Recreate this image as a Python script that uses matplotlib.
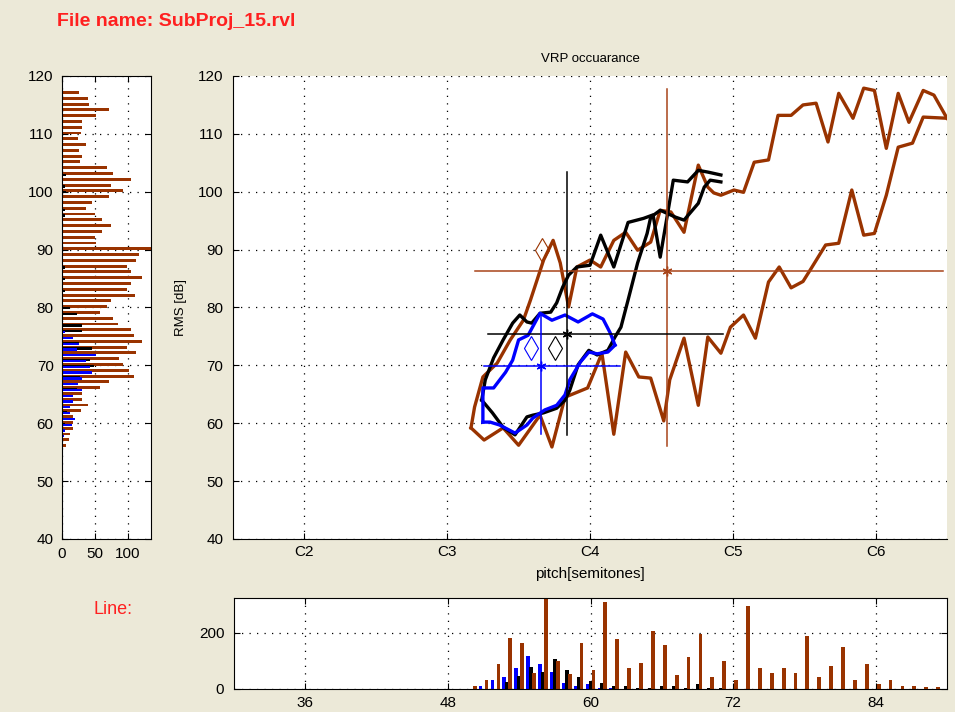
import matplotlib.pyplot as plt
import numpy as np

plt.rcParams['font.family'] = ['Liberation Sans', 'DejaVu Sans']

# ---- colours
bg = '#ece9d8'
brown = '#993300'
brown_thin = '#a8441a'
blue = '#0000ff'
black = '#000000'

# ---- VRP contours (pitch in semitones, level in dB)
brown_up_pitch = [50.0, 50.3, 51.0, 52.2, 53.3, 54.4, 55.0, 56.1, 56.9, 57.5, 58.2, 58.9, 60.0,
                  60.9, 62.0, 63.0, 64.0, 65.1, 65.9, 66.8, 67.9, 69.1, 69.9, 70.4, 71.0, 72.1,
                  72.9, 73.8, 75.0, 75.8, 76.9, 77.9, 79.0, 80.0, 80.9, 82.1, 83.0, 83.9, 84.9,
                  85.9, 86.8, 88.0, 88.9, 90.0]
brown_up_db = [59.2, 62.8, 68.0, 70.4, 74.4, 77.8, 81.3, 88.2, 91.6, 87.7, 80.1, 87.0, 88.2,
               87.0, 91.6, 93.0, 89.9, 91.3, 96.8, 96.5, 93.0, 104.6, 100.8, 99.8, 99.4, 100.3,
               99.9, 105.1, 105.5, 113.2, 113.2, 115.0, 115.3, 108.6, 117.0, 112.7, 117.9, 117.5,
               107.5, 117.0, 112.0, 117.5, 116.7, 112.7]
brown_lo_pitch = [50.0, 51.1, 52.7, 54.0, 55.8, 56.8, 57.9, 59.8, 61.0, 62.0, 63.0, 64.1, 65.1,
                  66.2, 66.7, 67.9, 69.1, 69.9, 71.0, 71.8, 72.9, 73.9, 75.0, 75.9, 76.9, 77.9,
                  78.6, 79.8, 80.9, 82.0, 83.0, 83.9, 84.9, 85.9, 87.1, 88.0, 90.0]
brown_lo_db = [59.2, 57.1, 59.2, 56.2, 61.4, 55.9, 64.5, 66.1, 72.1, 58.1, 72.3, 68.0, 67.8,
               60.4, 67.5, 74.7, 63.1, 74.9, 72.1, 76.6, 78.7, 74.7, 84.4, 87.0, 83.4, 84.5,
               86.8, 90.8, 91.1, 100.3, 92.5, 92.8, 99.4, 107.7, 108.4, 112.9, 112.7]

black_up_pitch = [50.9, 51.2, 51.9, 52.7, 53.5, 54.1, 54.7, 55.1, 55.8, 56.7, 57.2, 57.7, 58.2,
                  58.9, 60.0, 60.9, 62.0, 63.2, 64.5, 65.3, 65.9, 67.0, 68.2, 69.1, 69.9, 71.0]
black_up_db = [64.0, 67.5, 71.3, 74.4, 77.3, 78.7, 77.5, 77.3, 79.0, 79.2, 80.8, 83.5, 85.6,
               87.0, 87.3, 92.5, 87.0, 94.7, 95.4, 96.0, 88.7, 102.0, 101.7, 103.7, 103.4, 102.9]
black_lo_pitch = [50.9, 51.8, 52.7, 53.7, 54.7, 55.2, 56.1, 57.2, 57.9, 58.3, 59.0, 59.9, 60.6,
                  61.5, 62.1, 62.6, 63.2, 64.0, 64.8, 65.1, 65.9, 67.2, 67.9, 69.1, 69.6, 70.1, 71.0]
black_lo_db = [64.0, 61.8, 59.3, 58.0, 61.1, 61.4, 61.8, 62.6, 64.0, 65.7, 70.1, 72.6, 71.8,
               72.6, 74.9, 76.6, 81.3, 87.7, 92.8, 95.6, 96.8, 95.6, 95.1, 98.0, 100.8, 102.0, 101.7]

blue_up_pitch = [51.0, 51.0, 51.9, 52.9, 53.5, 54.0, 54.8, 55.8, 56.8, 57.9, 59.0, 60.2, 61.1,
                 61.7, 62.1]
blue_up_db = [60.2, 66.1, 66.1, 68.8, 70.9, 74.4, 75.2, 79.0, 77.8, 78.7, 77.5, 78.9, 78.0,
              75.6, 73.5]
blue_lo_pitch = [51.0, 51.6, 52.4, 53.7, 54.7, 55.2, 56.2, 57.2, 57.9, 58.3, 59.2, 59.9, 60.6,
                 61.5, 62.1]
blue_lo_db = [60.2, 60.2, 59.7, 58.3, 59.7, 60.9, 62.3, 63.1, 64.9, 67.5, 70.6, 72.3, 72.0,
              72.3, 73.5]

# ---- crosshairs: centre, pitch range, level range
brown_cross = dict(c=(66.5, 86.3), xr=(50.3, 89.7), yr=(56.1, 117.7))
black_cross = dict(c=(58.1, 75.4), xr=(51.4, 71.2), yr=(58.0, 103.4))
blue_cross = dict(c=(55.9, 69.9), xr=(51.1, 62.5), yr=(58.1, 78.9))
diamonds = [(56.0, 89.9, brown), (55.0, 73.0, blue), (57.1, 73.0, black)]

# ---- left histogram (counts per dB)
lh_brown_db = list(range(117, 55, -1))
lh_brown = [26, 40, 41, 72, 52, 31, 31, 29, 24, 36, 26, 31, 28, 69, 77, 104, 74, 93, 72, 45,
            36, 50, 61, 74, 61, 50, 52, 140, 117, 112, 99, 104, 121, 104, 99, 110, 74, 69, 58,
            77, 85, 104, 109, 121, 99, 112, 87, 93, 102, 109, 72, 57, 31, 31, 40, 29, 17, 16,
            17, 12, 10, 6]
lh_black_db = [103, 101, 100, 97, 96, 87, 85, 83, 80, 79, 77, 76, 74, 73, 71, 70, 68, 66, 64, 62, 60]
lh_black = [6, 4, 6, 5, 4, 5, 4, 4, 12, 23, 31, 31, 26, 45, 42, 48, 27, 22, 12, 8, 5]
lh_blue_db = [76, 75, 74, 73, 72, 71, 70, 69, 68, 67, 66, 65, 64, 63, 62, 61, 60, 59, 58]
lh_blue = [5, 17, 26, 23, 52, 36, 43, 45, 30, 25, 31, 17, 17, 12, 12, 20, 15, 5, 3]

# ---- bottom histogram (counts per semitone)
bh_brown_st = list(range(50, 90))
bh_brown = [11, 32, 88, 183, 163, 56, 330, 100, 54, 163, 68, 309, 177, 74, 94, 208, 157, 50,
            113, 196, 44, 101, 32, 298, 74, 56, 74, 56, 189, 44, 82, 151, 32, 88, 18, 32, 12,
            12, 6, 6]
bh_black_st = list(range(53, 72))
bh_black = [24, 48, 80, 62, 106, 68, 44, 30, 23, 11, 11, 5, 5, 11, 11, 5, 17, 5, 5]
bh_blue_st = list(range(51, 63))
bh_blue = [11, 32, 44, 74, 119, 88, 62, 23, 11, 17, 5, 5]

note_ticks = [36, 48, 60, 72, 84]
note_names = ['C2', 'C3', 'C4', 'C5', 'C6']

W, H = 955, 712
fig = plt.figure(figsize=(W / 100, H / 100), dpi=100, facecolor=bg)
ax = fig.add_axes([233 / W, 1 - 539 / H, 714 / W, 463 / H])
axl = fig.add_axes([62 / W, 1 - 539 / H, 89 / W, 463 / H])
axb = fig.add_axes([234 / W, 1 - 689 / H, 713 / W, 91 / H])

dots = (0, (1, 5))
fs = 11

# main VRP panel
ax.plot(brown_up_pitch, brown_up_db, color=brown, lw=2.4)
ax.plot(brown_lo_pitch, brown_lo_db, color=brown, lw=2.4)
ax.plot(black_up_pitch, black_up_db, color=black, lw=2.4)
ax.plot(black_lo_pitch, black_lo_db, color=black, lw=2.4)
ax.plot(blue_up_pitch, blue_up_db, color=blue, lw=2.4)
ax.plot(blue_lo_pitch, blue_lo_db, color=blue, lw=2.4)

for cr, col in [(brown_cross, brown_thin), (black_cross, black), (blue_cross, blue)]:
    cx, cy = cr['c']
    ax.plot(cr['xr'], [cy, cy], color=col, lw=1.1)
    ax.plot([cx, cx], cr['yr'], color=col, lw=1.1)
    ax.plot(cx, cy, marker=(6, 2, 0), color=col, ms=7, mew=1)

for x, y, col in diamonds:
    ax.plot(x, y, marker='d', mfc='none', mec=col, ms=12, mew=0.8)

ax.set_xlim(30, 90)
ax.set_ylim(40, 120)
ax.set_xticks(note_ticks)
ax.set_xticklabels(note_names)
ax.set_yticks(range(40, 121, 10))
ax.grid(True, linestyle=dots, color='black', lw=0.9)
ax.spines['top'].set_visible(False)
ax.spines['right'].set_visible(False)
ax.tick_params(direction='in', length=4, labelsize=fs, pad=7)
ax.tick_params(axis='x', pad=4)
ax.set_title('VRP occuarance', fontsize=9.5, pad=10)
ax.set_ylabel('RMS [dB]', fontsize=9.5, labelpad=8)
ax.set_xlabel('pitch[semitones]', fontsize=11, labelpad=6)

# left histogram
axl.barh(np.array(lh_brown_db) + 0.15, lh_brown, height=0.5, color=brown)
axl.barh(np.array(lh_black_db) - 0.1, lh_black, height=0.4, color=black)
axl.barh(np.array(lh_blue_db) - 0.25, lh_blue, height=0.4, color=blue)
axl.set_xlim(0, 135)
axl.set_ylim(40, 120)
axl.set_xticks([0, 50, 100])
axl.set_yticks(range(40, 121, 10))
axl.grid(True, linestyle=dots, color='black', lw=0.9)
axl.set_axisbelow(True)
axl.tick_params(direction='in', length=4, labelsize=fs, top=True, right=True, pad=6)

# bottom histogram
bw = 0.32
axb.bar(np.array(bh_blue_st) - 0.25, bh_blue, width=bw, color=blue)
axb.bar(bh_black_st, bh_black, width=bw, color=black)
axb.bar(np.array(bh_brown_st) + 0.25, bh_brown, width=bw, color=brown)
axb.set_xlim(30, 90)
axb.set_ylim(0, 325)
axb.set_xticks(note_ticks)
axb.set_yticks([0, 200])
axb.grid(True, linestyle=dots, color='black', lw=0.9)
axb.set_axisbelow(True)
axb.tick_params(direction='in', length=4, labelsize=fs, top=True, right=True, pad=7)
axb.tick_params(axis='x', pad=5)

fig.text(57 / W, 1 - 22 / H, 'File name: SubProj_15.rvl', color='#ff2020', fontsize=14,
         fontweight='bold', va='center', ha='left')
fig.text(93 / W, 1 - 609 / H, 'Line:', color='#ff2020', fontsize=13, va='center', ha='left')

fig.savefig('out.png', dpi=100, facecolor=bg)
